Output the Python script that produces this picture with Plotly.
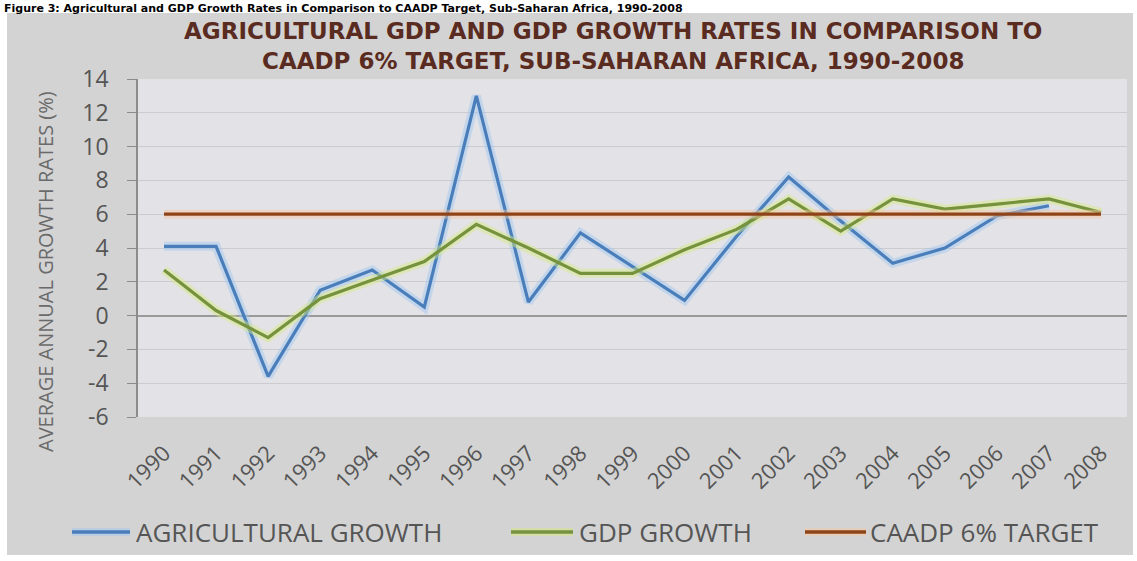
import plotly.graph_objects as go

# ---------------- data ----------------
years = ["1990", "1991", "1992", "1993", "1994", "1995", "1996", "1997", "1998", "1999",
         "2000", "2001", "2002", "2003", "2004", "2005", "2006", "2007", "2008"]
agricultural_growth = [4.1, 4.1, -3.6, 1.5, 2.7, 0.5, 13.0, 0.8, 4.9, 2.9,
                       0.9, 4.7, 8.2, 5.6, 3.1, 4.0, 5.9, 6.5, None]
gdp_growth = [2.7, 0.3, -1.3, 1.0, 2.1, 3.2, 5.4, 4.0, 2.5, 2.5,
              3.9, 5.1, 6.9, 5.0, 6.9, 6.3, 6.6, 6.9, 6.1]
caadp_target = [6, 6, 6, 6, 6, 6, 6, 6, 6, 6, 6, 6, 6, 6, 6, 6, 6, 6, 6]
ytick_values = [-6, -4, -2, 0, 2, 4, 6, 8, 10, 12, 14]
ytick_labels = ["-6", "-4", "-2", "0", "2", "4", "6", "8", "10", "12", "14"]

series_names = ["AGRICULTURAL GROWTH", "GDP GROWTH", "CAADP 6% TARGET"]
title_text = ("AGRICULTURAL GDP AND GDP GROWTH RATES IN COMPARISON TO<br>"
              "CAADP 6% TARGET, SUB-SAHARAN AFRICA, 1990-2008")
caption_text = ("Figure 3: Agricultural and GDP Growth Rates in Comparison to CAADP Target, "
                "Sub-Saharan Africa, 1990-2008")
y_title = "AVERAGE ANNUAL GROWTH RATES (%)"

# ---------------- styling ----------------
W, H = 1137, 561
L, R, T, B = 138, 10, 79, 144
PW, PH = W - L - R, H - T - B


def px(x):
    return (x - L) / PW


def py(y):
    return (H - B - y) / PH


FONT = "Open Sans"
BLUE, BLUE_HALO = "#4A7EBB", "#9CC6F2"
GREEN, GREEN_HALO = "#76923C", "#D9EC7C"
BROWN, BROWN_HALO = "#8E4418", "#F9C7A0"
TEXT_GREY = "#555555"

fig = go.Figure()

series = [
    (agricultural_growth, BLUE, BLUE_HALO, series_names[0]),
    (gdp_growth, GREEN, GREEN_HALO, series_names[1]),
    (caadp_target, BROWN, BROWN_HALO, series_names[2]),
]

for vals, col, halo, name in series:
    fig.add_trace(go.Scatter(x=years, y=vals, mode="lines", name=name + " glow",
                             line=dict(color=halo, width=9), opacity=0.45,
                             showlegend=False, hoverinfo="skip"))
    fig.add_trace(go.Scatter(x=years, y=vals, mode="lines", name=name,
                             line=dict(color=col, width=3.2), showlegend=False))

shapes = [
    # grey chart-area background
    dict(type="rect", xref="paper", yref="paper", layer="below",
         x0=px(7), x1=px(1133), y0=py(555), y1=py(13),
         fillcolor="#D3D3D3", line=dict(width=0)),
    # plot-area background
    dict(type="rect", xref="paper", yref="paper", layer="below",
         x0=0, x1=1, y0=0, y1=1, fillcolor="#E2E2E7", line=dict(width=0)),
]

annotations = [
    dict(text="<b>" + caption_text + "</b>", xref="paper", yref="paper", x=px(2), y=py(0),
         xanchor="left", yanchor="top", showarrow=False,
         font=dict(family="DejaVu Sans", size=11, color="#000000")),
    dict(text="<b>" + title_text + "</b>", xref="paper", yref="paper",
         x=px(613), y=py(46), xanchor="center", yanchor="middle", showarrow=False,
         font=dict(family="DejaVu Sans", size=23, color="#5A2B20")),
    dict(text=y_title, xref="paper", yref="paper", x=px(45), y=py(272),
         xanchor="center", yanchor="middle", textangle=-90, showarrow=False,
         font=dict(family=FONT, size=20, color="#6A6A6A")),
]

# manual legend
legend_y = py(532)
legend_items = [(72, 130, 134), (511, 573, 577), (805, 866, 868)]
for (x0, x1, xt), (_, col, halo, name) in zip(legend_items, series):
    shapes.append(dict(type="line", xref="paper", yref="paper", x0=px(x0), x1=px(x1),
                       y0=legend_y, y1=legend_y, line=dict(color=halo, width=8),
                       opacity=0.45))
    shapes.append(dict(type="line", xref="paper", yref="paper", x0=px(x0), x1=px(x1),
                       y0=legend_y, y1=legend_y, line=dict(color=col, width=3.5)))
    annotations.append(dict(text=name, xref="paper", yref="paper", x=px(xt), y=legend_y,
                            xanchor="left", yanchor="middle", showarrow=False,
                            font=dict(family=FONT, size=26, color=TEXT_GREY)))

fig.update_layout(
    width=W, height=H,
    margin=dict(l=L, r=R, t=T, b=B, pad=0),
    paper_bgcolor="#FFFFFF",
    plot_bgcolor="rgba(0,0,0,0)",
    showlegend=False,
    shapes=shapes,
    annotations=annotations,
    xaxis=dict(
        type="category", categoryorder="array", categoryarray=years,
        range=[-0.5, 18.5], showgrid=False, zeroline=False, showline=False,
        ticks="", tickangle=-45, ticklabelstandoff=18,
        tickfont=dict(family=FONT, size=22, color=TEXT_GREY),
    ),
    yaxis=dict(
        range=[-6, 14], tickvals=ytick_values, ticktext=ytick_labels,
        showgrid=True, gridcolor="#CBCBD0", gridwidth=1,
        zeroline=True, zerolinecolor="#9A9A9A", zerolinewidth=1.5,
        showline=True, linecolor="#8C8C8C", linewidth=1.5,
        ticks="outside", ticklen=9, tickcolor="#8C8C8C", ticklabelstandoff=14,
        tickfont=dict(family=FONT, size=23, color=TEXT_GREY),
    ),
)

fig.write_html("out.html", config={"displayModeBar": False},
               post_script="document.body.style.margin='0';")
